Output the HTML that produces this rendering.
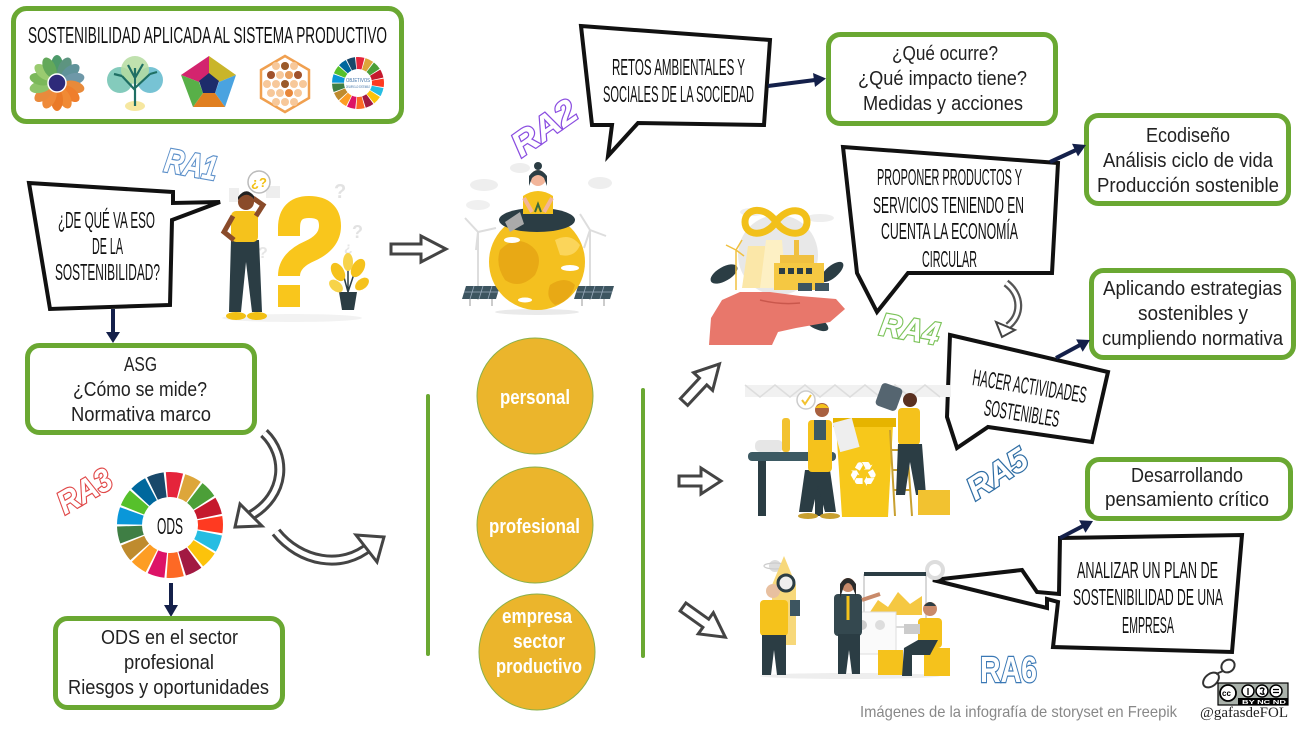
<!DOCTYPE html>
<html><head><meta charset="utf-8">
<style>
html,body{margin:0;padding:0;background:#fff;}
svg{display:block;}
.bx{fill:#fff;stroke:#6aa832;stroke-width:5;}
.bt{font-family:"Liberation Sans",sans-serif;font-size:20px;fill:#222;}
.hw{font-family:"Liberation Sans",sans-serif;font-size:23px;fill:#111;}
.bub{fill:#fff;stroke:#111;stroke-width:4;stroke-linejoin:miter;}
.nav{stroke:#14204a;stroke-width:4;fill:none;}
.navh{fill:#14204a;}
.ha{fill:#fff;stroke:#444;stroke-width:3;stroke-linejoin:miter;}
.ra{font-family:"Liberation Sans",sans-serif;font-weight:bold;font-style:italic;fill:#fff;stroke-width:2.4;paint-order:stroke;}
.ct{font-family:"Liberation Sans",sans-serif;font-weight:bold;font-size:20px;fill:#fff;}
.dk{fill:#2b3d44;}
.yl{fill:#f5c21c;}
</style></head><body>
<svg width="1307" height="732" viewBox="0 0 1307 732" xmlns="http://www.w3.org/2000/svg">
<rect width="1307" height="732" fill="#fff"/>

<!-- ===== Title box ===== -->
<rect class="bx" x="13.5" y="8.5" width="388" height="113" rx="13"/>
<text class="hw" x="28" y="43" font-size="28" textLength="359" lengthAdjust="spacingAndGlyphs">SOSTENIBILIDAD APLICADA AL SISTEMA PRODUCTIVO</text>

<!-- flower icon -->
<g>
<ellipse cx="57" cy="66" rx="6" ry="11" fill="#4d9a6a" transform="rotate(0 57 83)"/>
<ellipse cx="57" cy="66" rx="6" ry="11" fill="#5d9480" transform="rotate(26 57 83)"/>
<ellipse cx="57" cy="66" rx="6" ry="11" fill="#60939a" transform="rotate(51 57 83)"/>
<ellipse cx="57" cy="66" rx="6" ry="11" fill="#6e98a8" transform="rotate(77 57 83)"/>
<ellipse cx="57" cy="66" rx="6" ry="11" fill="#e88a3a" transform="rotate(103 57 83)"/>
<ellipse cx="57" cy="66" rx="6" ry="11" fill="#ef7e2c" transform="rotate(129 57 83)"/>
<ellipse cx="57" cy="66" rx="6" ry="11" fill="#f08a35" transform="rotate(154 57 83)"/>
<ellipse cx="57" cy="66" rx="6" ry="11" fill="#ea7a28" transform="rotate(180 57 83)"/>
<ellipse cx="57" cy="66" rx="6" ry="11" fill="#ef8a3a" transform="rotate(206 57 83)"/>
<ellipse cx="57" cy="66" rx="6" ry="11" fill="#e98a3c" transform="rotate(231 57 83)"/>
<ellipse cx="57" cy="66" rx="6" ry="11" fill="#8ec46a" transform="rotate(257 57 83)"/>
<ellipse cx="57" cy="66" rx="6" ry="11" fill="#7bb85a" transform="rotate(283 57 83)"/>
<ellipse cx="57" cy="66" rx="6" ry="11" fill="#9acb70" transform="rotate(309 57 83)"/>
<ellipse cx="57" cy="66" rx="6" ry="11" fill="#63a85a" transform="rotate(334 57 83)"/>
<circle cx="57" cy="83" r="9" fill="#2e2a7a" stroke="#fff" stroke-width="1.5"/>
</g>

<!-- tree icon -->
<g>
<circle cx="120" cy="80" r="13" fill="#6fc2b0" opacity="0.85"/>
<circle cx="150" cy="80" r="13" fill="#5fb8cc" opacity="0.85"/>
<circle cx="135" cy="70" r="14" fill="#b5dca0" opacity="0.85"/>
<ellipse cx="135" cy="106" rx="10" ry="5" fill="#f6e7a0"/>
<path d="M135 106 L135 68 M135 90 L122 76 M135 88 L150 74 M135 78 L128 65 M135 78 L143 64 M122 76 L114 74 M150 74 L157 72" stroke="#1f6f64" stroke-width="2.2" fill="none"/>
</g>

<!-- pentagon icon -->
<g>
<polygon points="181,75 209,56 209,75 199,82" fill="#d3246e"/>
<polygon points="209,56 236,75 219,82 209,75" fill="#c9b52a"/>
<polygon points="236,75 225,107 215,93 219,82" fill="#4aa3e0"/>
<polygon points="225,107 193,107 203,93 215,93" fill="#e07f20"/>
<polygon points="193,107 181,75 199,82 203,93" fill="#58b048"/>
<polygon points="209,73 219,81 215,93 203,93 199,81" fill="#1d2c6b"/>
</g>

<!-- hexagon icon -->
<g>
<polygon points="285,56 309,70 309,98 285,112 261,98 261,70" fill="#fff" stroke="#f0a050" stroke-width="2.5"/>
<g fill="#f7c89a">
<circle cx="276" cy="66" r="4"/><circle cx="285" cy="66" r="4"/><circle cx="294" cy="66" r="4"/>
<circle cx="271" cy="75" r="4"/><circle cx="280" cy="75" r="4"/><circle cx="289" cy="75" r="4"/><circle cx="298" cy="75" r="4"/>
<circle cx="267" cy="84" r="4"/><circle cx="276" cy="84" r="4"/><circle cx="294" cy="84" r="4"/><circle cx="303" cy="84" r="4"/>
<circle cx="271" cy="93" r="4"/><circle cx="280" cy="93" r="4"/><circle cx="298" cy="93" r="4"/>
<circle cx="276" cy="102" r="4"/><circle cx="285" cy="102" r="4"/><circle cx="294" cy="102" r="4"/>
</g>
<circle cx="285" cy="66" r="4" fill="#9a5a2a"/>
<circle cx="271" cy="75" r="4" fill="#a0522d"/>
<circle cx="298" cy="75" r="4" fill="#a0522d"/>
<circle cx="285" cy="84" r="4" fill="#9a5a2a"/>
<circle cx="289" cy="93" r="4" fill="#e8873a"/>
<circle cx="289" cy="75" r="4" fill="#e8a060"/>
</g>

<!-- small SDG wheel -->
<g fill="none" stroke-width="12" stroke-dasharray="6.6 200">
<circle cx="358" cy="83" r="20" stroke="#e5243b" transform="rotate(-94.5 358 83)"/>
<circle cx="358" cy="83" r="20" stroke="#dda63a" transform="rotate(-73.32 358 83)"/>
<circle cx="358" cy="83" r="20" stroke="#4c9f38" transform="rotate(-52.15 358 83)"/>
<circle cx="358" cy="83" r="20" stroke="#c5192d" transform="rotate(-30.97 358 83)"/>
<circle cx="358" cy="83" r="20" stroke="#ff3a21" transform="rotate(-9.8 358 83)"/>
<circle cx="358" cy="83" r="20" stroke="#26bde2" transform="rotate(11.38 358 83)"/>
<circle cx="358" cy="83" r="20" stroke="#fcc30b" transform="rotate(32.56 358 83)"/>
<circle cx="358" cy="83" r="20" stroke="#a21942" transform="rotate(53.73 358 83)"/>
<circle cx="358" cy="83" r="20" stroke="#fd6925" transform="rotate(74.91 358 83)"/>
<circle cx="358" cy="83" r="20" stroke="#dd1367" transform="rotate(96.09 358 83)"/>
<circle cx="358" cy="83" r="20" stroke="#fd9d24" transform="rotate(117.26 358 83)"/>
<circle cx="358" cy="83" r="20" stroke="#bf8b2e" transform="rotate(138.44 358 83)"/>
<circle cx="358" cy="83" r="20" stroke="#3f7e44" transform="rotate(159.62 358 83)"/>
<circle cx="358" cy="83" r="20" stroke="#0a97d9" transform="rotate(180.79 358 83)"/>
<circle cx="358" cy="83" r="20" stroke="#56c02b" transform="rotate(201.97 358 83)"/>
<circle cx="358" cy="83" r="20" stroke="#00689d" transform="rotate(223.15 358 83)"/>
<circle cx="358" cy="83" r="20" stroke="#19486a" transform="rotate(244.32 358 83)"/>
</g>
<text x="346" y="82" font-family="Liberation Sans,sans-serif" font-size="5" fill="#3a6ea5" textLength="24" lengthAdjust="spacingAndGlyphs">OBJETIVOS</text>
<text x="346" y="88" font-family="Liberation Sans,sans-serif" font-size="4" fill="#3a6ea5" textLength="24" lengthAdjust="spacingAndGlyphs">DESARROLLO SOSTENIBLE</text>

<!-- ===== RA1 section ===== -->
<text class="ra" x="165" y="176" font-size="34" textLength="53" lengthAdjust="spacingAndGlyphs" stroke="#5b8fc9" transform="rotate(10 191 162)">RA1</text>

<polygon class="bub" points="29,183 173,192 173,203 220,202 172,220 170,305 50,309"/>
<text class="hw" x="58" y="228" font-size="24" textLength="97" lengthAdjust="spacingAndGlyphs">¿DE QUÉ VA ESO</text>
<text class="hw" x="92" y="254" font-size="24" textLength="31" lengthAdjust="spacingAndGlyphs">DE LA</text>
<text class="hw" x="55" y="280" font-size="24" textLength="105" lengthAdjust="spacingAndGlyphs">SOSTENIBILIDAD?</text>

<!-- person with question -->
<g>
<rect x="266" y="186" width="14" height="12" fill="#eee"/>
<rect x="229" y="188" width="10" height="14" fill="#eee"/>
<text x="334" y="198" font-family="Liberation Sans,sans-serif" font-weight="bold" font-size="20" fill="#e2e2e2">?</text>
<text x="352" y="238" font-family="Liberation Sans,sans-serif" font-weight="bold" font-size="18" fill="#e2e2e2">?</text>
<text x="258" y="258" font-family="Liberation Sans,sans-serif" font-weight="bold" font-size="16" fill="#e6e6e6">?</text>
<text x="344" y="252" font-family="Liberation Sans,sans-serif" font-weight="bold" font-size="14" fill="#e6e6e6">¿</text>
<ellipse cx="292" cy="318" rx="70" ry="4" fill="#f2f2f2"/>
<path d="M289 236 L289 228 Q289 207 309 207 Q330 207 330 226 Q330 242 310 251 Q289 260 289 276" stroke="#f9c61c" stroke-width="22" fill="none"/>
<rect x="278" y="285" width="22" height="22" fill="#f9c61c"/>
<polygon class="dk" points="231,240 259,240 262,312 252,312 246,262 241,312 229,312"/>
<ellipse cx="236" cy="316" rx="10" ry="4" fill="#f2c014"/>
<ellipse cx="257" cy="316" rx="10" ry="4" fill="#f2c014"/>
<rect x="231" y="211" width="27" height="31" rx="5" fill="#f5c21c"/>
<path d="M233 216 L224 232 L234 240" stroke="#8a4b2a" stroke-width="5" fill="none"/>
<path d="M256 216 L263 205 L253 198" stroke="#8a4b2a" stroke-width="5" fill="none"/>
<circle cx="246" cy="202" r="8" fill="#8a4b2a"/>
<path d="M238 200 Q246 190 254 199 L254 196 Q246 186 238 197Z" fill="#222"/>
<circle cx="259" cy="182" r="11" fill="#fff" stroke="#bbb" stroke-width="1.5"/>
<text x="251" y="187" font-family="Liberation Sans,sans-serif" font-weight="bold" font-size="13" fill="#f2c014">¿?</text>
<polygon class="dk" points="339,292 357,292 354,310 342,310"/>
<path d="M348 292 L342 270 M348 292 L356 268 M348 292 L348 262" stroke="#2b3d44" stroke-width="1.5" fill="none"/>
<ellipse cx="338" cy="272" rx="6" ry="10" fill="#f5c21c" transform="rotate(-30 338 272)"/>
<ellipse cx="358" cy="268" rx="6" ry="10" fill="#f5c21c" transform="rotate(30 358 268)"/>
<ellipse cx="348" cy="262" rx="5" ry="9" fill="#f7d34a"/>
<ellipse cx="336" cy="286" rx="5" ry="8" fill="#f7d34a" transform="rotate(-50 336 286)"/>
<ellipse cx="362" cy="284" rx="5" ry="8" fill="#f5c21c" transform="rotate(50 362 284)"/>
</g>

<!-- down navy arrow -->
<line class="nav" x1="113" y1="309" x2="113" y2="333"/>
<polygon class="navh" points="106,332 120,332 113,343"/>

<!-- ASG box -->
<rect class="bx" x="27.5" y="345.5" width="227" height="87" rx="12"/>
<text class="bt" x="124" y="371" textLength="33" lengthAdjust="spacingAndGlyphs">ASG</text>
<text class="bt" x="73" y="396" textLength="134" lengthAdjust="spacingAndGlyphs">¿Cómo se mide?</text>
<text class="bt" x="71" y="421" textLength="140" lengthAdjust="spacingAndGlyphs">Normativa marco</text>

<!-- curved hollow arrows -->
<path d="M264 433 C287 455, 287 495, 250 516" stroke="#444" stroke-width="11" fill="none"/>
<path d="M264 433 C287 455, 287 495, 250 516" stroke="#fff" stroke-width="5" fill="none"/>
<polygon class="ha" points="235,527 240,504 262,526"/>
<path d="M276 532 C300 562, 342 570, 370 546" stroke="#444" stroke-width="11" fill="none"/>
<path d="M276 532 C300 562, 342 570, 370 546" stroke="#fff" stroke-width="5" fill="none"/>
<polygon class="ha" points="384,537 356,535 377,562"/>

<!-- RA3 -->
<text class="ra" x="55" y="502" font-size="32" textLength="58" lengthAdjust="spacingAndGlyphs" stroke="#e04848" transform="rotate(-30 84 490)">RA3</text>

<!-- ODS wheel -->
<g fill="none" stroke-width="25" stroke-dasharray="13.3 300">
<circle cx="170" cy="525" r="40.5" stroke="#e5243b" transform="rotate(-94.5 170 525)"/>
<circle cx="170" cy="525" r="40.5" stroke="#dda63a" transform="rotate(-73.32 170 525)"/>
<circle cx="170" cy="525" r="40.5" stroke="#4c9f38" transform="rotate(-52.15 170 525)"/>
<circle cx="170" cy="525" r="40.5" stroke="#c5192d" transform="rotate(-30.97 170 525)"/>
<circle cx="170" cy="525" r="40.5" stroke="#ff3a21" transform="rotate(-9.8 170 525)"/>
<circle cx="170" cy="525" r="40.5" stroke="#26bde2" transform="rotate(11.38 170 525)"/>
<circle cx="170" cy="525" r="40.5" stroke="#fcc30b" transform="rotate(32.56 170 525)"/>
<circle cx="170" cy="525" r="40.5" stroke="#a21942" transform="rotate(53.73 170 525)"/>
<circle cx="170" cy="525" r="40.5" stroke="#fd6925" transform="rotate(74.91 170 525)"/>
<circle cx="170" cy="525" r="40.5" stroke="#dd1367" transform="rotate(96.09 170 525)"/>
<circle cx="170" cy="525" r="40.5" stroke="#fd9d24" transform="rotate(117.26 170 525)"/>
<circle cx="170" cy="525" r="40.5" stroke="#bf8b2e" transform="rotate(138.44 170 525)"/>
<circle cx="170" cy="525" r="40.5" stroke="#3f7e44" transform="rotate(159.62 170 525)"/>
<circle cx="170" cy="525" r="40.5" stroke="#0a97d9" transform="rotate(180.79 170 525)"/>
<circle cx="170" cy="525" r="40.5" stroke="#56c02b" transform="rotate(201.97 170 525)"/>
<circle cx="170" cy="525" r="40.5" stroke="#00689d" transform="rotate(223.15 170 525)"/>
<circle cx="170" cy="525" r="40.5" stroke="#19486a" transform="rotate(244.32 170 525)"/>
</g>
<text class="hw" x="157" y="534" font-size="26" textLength="26" lengthAdjust="spacingAndGlyphs">ODS</text>

<line class="nav" x1="171" y1="583" x2="171" y2="606"/>
<polygon class="navh" points="164,605 178,605 171,617"/>

<!-- ODS box -->
<rect class="bx" x="55.5" y="618.5" width="227" height="89" rx="12"/>
<text class="bt" x="101" y="644" textLength="137" lengthAdjust="spacingAndGlyphs">ODS en el sector</text>
<text class="bt" x="124" y="669" textLength="90" lengthAdjust="spacingAndGlyphs">profesional</text>
<text class="bt" x="68" y="694" textLength="201" lengthAdjust="spacingAndGlyphs">Riesgos y oportunidades</text>

<!-- right hollow arrow -->
<path class="ha" transform="translate(391,249)" d="M0,-5 L30,-5 L30,-13 L55,0 L30,13 L30,5 L0,5 Z"/>

<!-- ===== RA2 section ===== -->
<text class="ra" x="508" y="140" font-size="34" textLength="72" lengthAdjust="spacingAndGlyphs" stroke="#8a4de0" transform="rotate(-35 543 128)">RA2</text>

<polygon class="bub" points="581,26 770,40 764,125 638,123 608,156 612,125 592,125"/>
<text class="hw" x="612" y="75" font-size="22" textLength="133" lengthAdjust="spacingAndGlyphs">RETOS AMBIENTALES Y</text>
<text class="hw" x="603" y="102" font-size="22" textLength="151" lengthAdjust="spacingAndGlyphs">SOCIALES DE LA SOCIEDAD</text>

<line class="nav" x1="768" y1="86" x2="815" y2="80"/>
<polygon class="navh" points="826,78.5 815,87 813,73"/>

<!-- woman on globe -->
<g>
<ellipse cx="484" cy="185" rx="14" ry="6" fill="#eee"/>
<ellipse cx="600" cy="183" rx="12" ry="6" fill="#eee"/>
<ellipse cx="520" cy="168" rx="10" ry="5" fill="#eee"/>
<ellipse cx="478" cy="205" rx="12" ry="5" fill="#f0f0f0"/>
<path d="M478 300 L478 232 M478 232 L465 218 M478 232 L496 228 M478 232 L476 250" stroke="#ddd" stroke-width="2" fill="none"/>
<path d="M590 300 L590 230 M590 230 L580 214 M590 230 L606 236 M590 230 L584 248" stroke="#ddd" stroke-width="2" fill="none"/>
<polygon points="466,286 500,286 496,299 462,299" fill="#3d5560"/>
<polygon points="578,286 614,286 610,299 574,299" fill="#3d5560"/>
<path d="M474 286 L470 299 M483 286 L479 299 M492 286 L488 299 M586 286 L582 299 M595 286 L591 299 M604 286 L600 299 M464 292 L498 292 M576 292 L612 292" stroke="#9ab" stroke-width="0.8"/>
<path d="M470 299 L470 306 M492 299 L492 306 M582 299 L582 306 M604 299 L604 306" stroke="#ccc" stroke-width="2"/>
<ellipse cx="537" cy="312" rx="42" ry="3" fill="#eaeaea"/>
<circle cx="537" cy="262" r="48" fill="#f4c01f"/>
<path d="M500 250 Q515 235 530 245 Q545 255 535 275 Q520 290 505 280 Q495 265 500 250Z" fill="#e8a915"/>
<path d="M550 285 Q565 275 575 285 Q570 302 555 305 Q545 298 550 285Z" fill="#e8a915"/>
<path d="M555 240 Q570 232 580 245 Q575 258 560 255Z" fill="#fbd55a"/>
<ellipse cx="512" cy="240" rx="8" ry="3" fill="#fff"/>
<ellipse cx="570" cy="268" rx="9" ry="3" fill="#fff"/>
<ellipse cx="525" cy="300" rx="7" ry="2.5" fill="#fff"/>
<ellipse cx="537" cy="220" rx="38" ry="12" class="dk"/>
<polygon points="505,222 520,212 524,224 510,232" fill="#aaa"/>
<path d="M523 214 L523 196 Q538 186 553 196 L553 214 Z" fill="#f5c21c"/>
<path d="M524 198 L532 212 M552 198 L544 212" stroke="#f2b59a" stroke-width="4"/>
<circle cx="538" cy="178" r="8" fill="#f2b59a"/>
<path d="M529 176 Q538 164 547 176 L547 186 L544 178 Q538 172 532 178 L529 186Z" class="dk"/>
<circle cx="538" cy="166" r="4" class="dk"/>
<path d="M535 212 L538 204 L541 212" stroke="#3b6b3b" stroke-width="2" fill="none"/>
</g>

<!-- ===== middle column ===== -->
<line x1="428" y1="396" x2="428" y2="654" stroke="#6aa832" stroke-width="4" stroke-linecap="round"/>
<line x1="643" y1="390" x2="643" y2="656" stroke="#6aa832" stroke-width="4" stroke-linecap="round"/>
<circle cx="535" cy="396" r="58" fill="#ebb52c" stroke="#8ab04a" stroke-width="1"/>
<circle cx="535" cy="525" r="58" fill="#ebb52c" stroke="#8ab04a" stroke-width="1"/>
<circle cx="537" cy="652" r="58" fill="#ebb52c" stroke="#8ab04a" stroke-width="1"/>
<text class="ct" x="500" y="404" textLength="70" lengthAdjust="spacingAndGlyphs">personal</text>
<text class="ct" x="489" y="533" textLength="91" lengthAdjust="spacingAndGlyphs">profesional</text>
<text class="ct" x="502" y="623" textLength="70" lengthAdjust="spacingAndGlyphs">empresa</text>
<text class="ct" x="513" y="648" textLength="52" lengthAdjust="spacingAndGlyphs">sector</text>
<text class="ct" x="496" y="673" textLength="86" lengthAdjust="spacingAndGlyphs">productivo</text>

<!-- three hollow arrows -->
<path class="ha" transform="translate(684,402) rotate(-47)" d="M0,-5 L28,-5 L28,-13 L52,0 L28,13 L28,5 L0,5 Z"/>
<path class="ha" transform="translate(679,481)" d="M0,-5 L22,-5 L22,-13 L42,0 L22,13 L22,5 L0,5 Z"/>
<path class="ha" transform="translate(683,607) rotate(35.5)" d="M0,-5 L28,-5 L28,-13 L52,0 L28,13 L28,5 L0,5 Z"/>

<!-- ===== top-right boxes ===== -->
<rect class="bx" x="828.5" y="34.5" width="227" height="89" rx="12"/>
<text class="bt" x="892" y="60" textLength="106" lengthAdjust="spacingAndGlyphs">¿Qué ocurre?</text>
<text class="bt" x="858" y="85" textLength="169" lengthAdjust="spacingAndGlyphs">¿Qué impacto tiene?</text>
<text class="bt" x="863" y="110" textLength="160" lengthAdjust="spacingAndGlyphs">Medidas y acciones</text>

<rect class="bx" x="1086.5" y="115.5" width="202" height="88" rx="12"/>
<text class="bt" x="1146" y="142" textLength="84" lengthAdjust="spacingAndGlyphs">Ecodiseño</text>
<text class="bt" x="1103" y="167" textLength="170" lengthAdjust="spacingAndGlyphs">Análisis ciclo de vida</text>
<text class="bt" x="1097" y="192" textLength="182" lengthAdjust="spacingAndGlyphs">Producción sostenible</text>

<!-- RA4 bubble -->
<polygon class="bub" points="843,147 1058,163 1052,273 908,273 877,312 857,273"/>
<text class="hw" x="877" y="185" textLength="145" lengthAdjust="spacingAndGlyphs">PROPONER PRODUCTOS Y</text>
<text class="hw" x="873" y="213" textLength="151" lengthAdjust="spacingAndGlyphs">SERVICIOS TENIENDO EN</text>
<text class="hw" x="881" y="239" textLength="137" lengthAdjust="spacingAndGlyphs">CUENTA LA ECONOMÍA</text>
<text class="hw" x="922" y="267" textLength="55" lengthAdjust="spacingAndGlyphs">CIRCULAR</text>

<line class="nav" x1="1050" y1="162" x2="1076" y2="150"/>
<polygon class="navh" points="1086,145 1078,156.4 1072,143.8"/>

<!-- small curved arrow -->
<path d="M1006 283 C1022 295, 1022 315, 1008 326" stroke="#555" stroke-width="8" fill="none"/>
<path d="M1006 283 C1022 295, 1022 315, 1008 326" stroke="#fff" stroke-width="3.5" fill="none"/>
<polygon class="ha" style="stroke-width:2" points="1002,337 996,322 1015,330"/>

<text class="ra" x="880" y="340" font-size="32" textLength="60" lengthAdjust="spacingAndGlyphs" stroke="#7cc35a" transform="rotate(10 910 328)">RA4</text>

<!-- hand illustration -->
<g>
<ellipse cx="752" cy="212" rx="12" ry="4" fill="#eee"/>
<ellipse cx="820" cy="218" rx="14" ry="4" fill="#eee"/>
<circle cx="778" cy="255" r="40" fill="#e8e8e8"/>
<ellipse cx="724" cy="274" rx="15" ry="7" class="dk" transform="rotate(-30 724 274)"/>
<ellipse cx="832" cy="272" rx="14" ry="6" class="dk" transform="rotate(-40 832 272)"/>
<ellipse cx="815" cy="322" rx="15" ry="6" class="dk" transform="rotate(30 815 322)"/>
<path d="M742 288 L748 246 L765 246 L769 288Z" fill="#fbe7a8"/>
<path d="M760 288 L766 240 L782 240 L786 288Z" fill="#fdf0c4"/>
<path d="M736 250 L736 290 M736 250 L726 245 M736 250 L742 240 M736 250 L744 256" stroke="#f0c040" stroke-width="1.5" fill="none"/>
<rect x="780" y="255" width="34" height="8" fill="#f0c040"/>
<rect x="794" y="240" width="5" height="15" fill="#f0c040"/>
<rect x="774" y="263" width="50" height="27" fill="#f5c842"/>
<rect x="779" y="268" width="6" height="6" class="dk"/><rect x="788" y="268" width="6" height="6" class="dk"/><rect x="797" y="268" width="6" height="6" class="dk"/><rect x="806" y="268" width="6" height="6" class="dk"/>
<rect x="798" y="283" width="14" height="8" fill="#3d5560"/><rect x="815" y="283" width="14" height="8" fill="#3d5560"/>
<path d="M776 222 C765 205, 745 208, 745 222 C745 236, 765 238, 776 222 C787 206, 807 208, 807 222 C807 236, 787 238, 776 222 Z" stroke="#f2c01a" stroke-width="7" fill="none"/>
<polygon points="709,345 711,318 722,300 740,292 770,292 800,296 836,299 845,309 830,322 796,328 778,332 772,345" fill="#e8776b"/>
<path d="M760 300 Q780 305 800 303" stroke="#c9574c" stroke-width="1.5" fill="none"/>
</g>

<!-- Aplicando box -->
<rect class="bx" x="1091.5" y="270.5" width="202" height="87" rx="12"/>
<text class="bt" x="1103" y="295" textLength="179" lengthAdjust="spacingAndGlyphs">Aplicando estrategias</text>
<text class="bt" x="1138" y="320" textLength="110" lengthAdjust="spacingAndGlyphs">sostenibles y</text>
<text class="bt" x="1102" y="345" textLength="181" lengthAdjust="spacingAndGlyphs">cumpliendo normativa</text>

<!-- RA5 bubble -->
<polygon class="bub" points="950,335 1108,372 1092,442 988,427 957,448 947,417"/>
<g transform="rotate(9 1028 400)">
<text class="hw" x="970" y="394" textLength="115" lengthAdjust="spacingAndGlyphs">HACER ACTIVIDADES</text>
<text class="hw" x="986" y="422" textLength="76" lengthAdjust="spacingAndGlyphs">SOSTENIBLES</text>
</g>
<line class="nav" x1="1056" y1="358" x2="1080" y2="345"/>
<polygon class="navh" points="1090,340 1082.7,351.8 1076.1,339.4"/>

<text class="ra" x="963" y="485" font-size="32" textLength="66" lengthAdjust="spacingAndGlyphs" stroke="#2e6da4" transform="rotate(-33 996 472)">RA5</text>

<!-- recycling illustration -->
<g>
<rect x="745" y="385" width="206" height="12" fill="#f1f1f1"/>
<path d="M745 385 L760 397 L775 385 L790 397 L805 385 L820 397 L835 385 L850 397 L865 385 L880 397 L895 385 L910 397 L925 385 L940 397" stroke="#ddd" stroke-width="1.5" fill="none"/>
<rect x="748" y="452" width="88" height="9" rx="4" fill="#3d5a63"/>
<rect x="758" y="461" width="8" height="55" class="dk"/>
<rect x="815" y="461" width="8" height="55" class="dk"/>
<rect x="755" y="440" width="28" height="12" rx="5" fill="#e6e6e6"/>
<rect x="782" y="418" width="8" height="34" rx="3" fill="#f2c230"/>
<polygon points="836,425 893,425 888,517 842,517" fill="#f7c81b"/>
<rect x="833" y="418" width="63" height="9" fill="#e6b400"/>
<text x="848" y="486" font-family="DejaVu Sans,sans-serif" font-size="34" fill="#fff">♻</text>
<rect x="836" y="420" width="20" height="30" fill="#eee" transform="rotate(-15 846 435)"/>
<polygon class="dk" points="805,470 830,470 836,512 825,512 818,486 812,512 799,512"/>
<rect x="808" y="420" width="24" height="52" rx="4" fill="#f5c21c"/>
<rect x="814" y="420" width="12" height="20" fill="#3d5a63"/>
<circle cx="822" cy="410" r="7" fill="#a86040"/>
<path d="M815 408 Q822 400 829 408Z" fill="#f5c21c"/>
<ellipse cx="808" cy="516" rx="10" ry="3" fill="#c8a030"/>
<ellipse cx="830" cy="516" rx="10" ry="3" fill="#c8a030"/>
<path d="M890 430 L895 516 M906 430 L912 516 M892 450 L908 450 M893 470 L909 470 M894 490 L910 490" stroke="#c8a030" stroke-width="2" fill="none"/>
<rect x="878" y="385" width="22" height="24" rx="4" fill="#556570" transform="rotate(20 889 397)"/>
<circle cx="910" cy="400" r="7" fill="#5a3020"/>
<rect x="898" y="408" width="22" height="37" rx="4" fill="#f5c21c"/>
<polygon class="dk" points="898,444 922,444 926,495 916,495 910,462 905,495 896,495"/>
<rect x="918" y="490" width="32" height="25" fill="#f2c230"/>
<circle cx="806" cy="400" r="9" fill="#fff" stroke="#ccc" stroke-width="1.5"/>
<path d="M802 400 L805 404 L811 395" stroke="#f2c230" stroke-width="2" fill="none"/>
</g>

<!-- Desarrollando box -->
<rect class="bx" x="1087.5" y="459.5" width="203" height="59" rx="12"/>
<text class="bt" x="1131" y="482" textLength="112" lengthAdjust="spacingAndGlyphs">Desarrollando</text>
<text class="bt" x="1105" y="506" textLength="164" lengthAdjust="spacingAndGlyphs">pensamiento crítico</text>

<!-- RA6 bubble -->
<polygon class="bub" points="1060,538 1242,535 1232,652 1053,647 1058,602 1047,599 1047,608 933,580 1022,570 1037,592 1059,594"/>
<text class="hw" x="1077" y="578" textLength="141" lengthAdjust="spacingAndGlyphs">ANALIZAR UN PLAN DE</text>
<text class="hw" x="1073" y="605" textLength="150" lengthAdjust="spacingAndGlyphs">SOSTENIBILIDAD DE UNA</text>
<text class="hw" x="1122" y="633" textLength="52" lengthAdjust="spacingAndGlyphs">EMPRESA</text>
<line class="nav" x1="1060" y1="538" x2="1083" y2="526"/>
<polygon class="navh" points="1093,521 1085.5,532.7 1079.1,520.3"/>

<text class="ra" x="980" y="682" font-size="36" textLength="57" lengthAdjust="spacingAndGlyphs" stroke="#3a78b5" style="font-style:normal">RA6</text>

<!-- business illustration -->
<g>
<circle cx="775" cy="566" r="6" fill="#ddd"/>
<ellipse cx="775" cy="566" rx="11" ry="3" fill="none" stroke="#ccc" stroke-width="1.2"/>
<path d="M772 645 L772 585 L784 556 L796 585 L796 645Z" fill="#f7d87a"/>
<circle cx="935" cy="570" r="8" fill="none" stroke="#ddd" stroke-width="4"/>
<rect x="864" y="575" width="62" height="52" fill="#fff" stroke="#ccc" stroke-width="1.5"/>
<rect x="864" y="572" width="62" height="4" class="dk"/>
<polygon points="868,615 878,600 888,607 898,592 910,604 922,596 922,615" fill="#f5c842"/>
<rect x="848" y="612" width="48" height="42" fill="#fafafa" stroke="#ddd"/>
<circle cx="862" cy="625" r="5" fill="#ccc"/><circle cx="880" cy="625" r="5" fill="#ddd"/>
<ellipse cx="850" cy="676" rx="90" ry="3" fill="#eee"/>
<rect x="760" y="600" width="28" height="36" rx="4" fill="#f5c21c"/>
<polygon class="dk" points="762,635 786,635 786,675 777,675 774,650 771,675 762,675"/>
<circle cx="773" cy="591" r="7" fill="#e8c0a0"/>
<circle cx="786" cy="583" r="8" fill="#eee" stroke="#2b3d44" stroke-width="3"/>
<rect x="790" y="600" width="10" height="16" fill="#3d5560"/>
<rect x="834" y="594" width="28" height="42" rx="4" fill="#34484f"/>
<path d="M848 596 L848 620" stroke="#f5c21c" stroke-width="3"/>
<polygon class="dk" points="838,634 860,634 860,674 852,674 849,650 846,674 838,674"/>
<circle cx="848" cy="585" r="7" fill="#c98a6a"/>
<path d="M840 584 Q848 572 856 584 L856 596 L852 586 Q848 580 844 586 L840 598Z" fill="#2b2b2b"/>
<path d="M862 600 L880 594" stroke="#c98a6a" stroke-width="4"/>
<rect x="878" y="650" width="25" height="25" fill="#f5c21c"/>
<rect x="924" y="648" width="26" height="28" fill="#f5c21c"/>
<rect x="918" y="618" width="24" height="30" rx="4" fill="#f5c21c"/>
<circle cx="930" cy="609" r="7" fill="#c98a6a"/>
<path d="M924 606 Q930 598 936 606Z" class="dk"/>
<polygon class="dk" points="918,640 938,640 930,655 912,655 912,676 902,676 904,648"/>
<rect x="904" y="624" width="16" height="10" fill="#ccc"/>
</g>

<!-- footer -->
<text x="860" y="717" font-family="Liberation Sans,sans-serif" font-size="16" fill="#888" textLength="317" lengthAdjust="spacingAndGlyphs">Imágenes de la infografía de storyset en Freepik</text>

<!-- CC logo & glasses -->
<g>
<ellipse cx="1211" cy="680" rx="9" ry="6" fill="none" stroke="#333" stroke-width="2" transform="rotate(-40 1211 680)"/>
<ellipse cx="1228" cy="666" rx="7" ry="6" fill="none" stroke="#333" stroke-width="2" transform="rotate(-40 1228 666)"/>
<path d="M1216 674 L1223 671" stroke="#333" stroke-width="2"/>
<rect x="1218" y="683" width="70" height="22" fill="#aab2ab" stroke="#000" stroke-width="1.2"/>
<rect x="1238" y="698" width="50" height="7" fill="#000"/>
<text x="1242" y="704" font-family="Liberation Sans,sans-serif" font-size="5" font-weight="bold" fill="#fff" textLength="44" lengthAdjust="spacingAndGlyphs">BY   NC   ND</text>
<circle cx="1228" cy="693" r="8" fill="#fff" stroke="#000" stroke-width="1.8"/>
<text x="1222" y="696" font-family="Liberation Sans,sans-serif" font-size="8" font-weight="bold" fill="#000">cc</text>
<circle cx="1248" cy="691" r="6" fill="#fff" stroke="#000" stroke-width="1.5"/>
<circle cx="1262" cy="691" r="6" fill="#fff" stroke="#000" stroke-width="1.5"/>
<circle cx="1276" cy="691" r="6" fill="#fff" stroke="#000" stroke-width="1.5"/>
<path d="M1248 688 L1248 695 M1260 689 Q1262 687 1264 689 Q1262 692 1264 694 Q1262 695 1260 693 M1273 689.5 L1279 689.5 M1273 692.5 L1279 692.5" stroke="#000" stroke-width="1.3" fill="none"/>
<text x="1200" y="717" font-family="Liberation Serif,serif" font-size="15" fill="#222" textLength="88" lengthAdjust="spacingAndGlyphs">@gafasdeFOL</text>
</g>
</svg>
</body></html>
